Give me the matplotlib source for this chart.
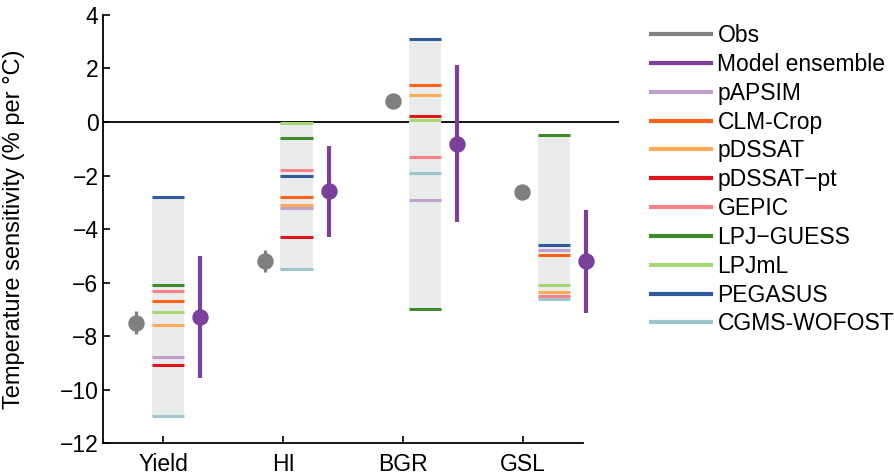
import numpy as np
import matplotlib
matplotlib.use("Agg")
import matplotlib.pyplot as plt
from matplotlib.lines import Line2D

plt.rcParams['font.family'] = ['Liberation Sans', 'DejaVu Sans']

# ---- data ----
categories = ["Yield", "HI", "BGR", "GSL"]
models = ["pAPSIM", "CLM-Crop", "pDSSAT", "pDSSAT\u2212pt", "GEPIC",
          "LPJ\u2212GUESS", "LPJmL", "PEGASUS", "CGMS-WOFOST"]
model_colors = ["#bf9fcc", "#ff6319", "#fdab58", "#e0141b", "#f98289",
                "#3f8a2c", "#a3d875", "#315a99", "#9ec4cc"]

# model sensitivities per category (Yield, HI, BGR, GSL)
pAPSIM      = [-8.80, -3.23, -2.90, -4.80]
CLM_Crop    = [-6.71, -2.80,  1.39, -4.96]
pDSSAT      = [-7.60, -3.12,  1.00, -6.37]
pDSSAT_pt   = [-9.10, -4.30,  0.22, np.nan]
GEPIC       = [-6.31, -1.81, -1.31, -6.49]
LPJ_GUESS   = [-6.10, -0.60, -7.00, -0.50]
LPJmL       = [-7.10, -0.04,  0.07, -6.09]
PEGASUS     = [-2.79, -2.00,  3.10, -4.61]
CGMS_WOFOST = [-11.00, -5.50, -1.91, -6.62]
model_values = [pAPSIM, CLM_Crop, pDSSAT, pDSSAT_pt, GEPIC,
                LPJ_GUESS, LPJmL, PEGASUS, CGMS_WOFOST]

obs_mean = [-7.50, -5.20, 0.80, -2.60]
obs_err  = [0.42, 0.40, 0.0, 0.0]

ens_mean = [-7.28, -2.58, -0.81, -5.21]
ens_low  = [-9.57, -4.31, -3.75, -7.13]
ens_high = [-5.01, -0.89, 2.13, -3.28]

yticks = [-12, -10, -8, -6, -4, -2, 0, 2, 4]

# ---- layout ----
fig = plt.figure(figsize=(8.95, 4.76), dpi=100)
ax = fig.add_axes([0.1154, 0.0693, 0.5762, 0.8992])

xpos = np.array([1.0375, 2.1125, 3.185, 4.26])
box_w = 0.27
off = 0.268

mv = np.array(model_values, dtype=float)
box_lo = np.nanmin(mv, axis=0)
box_hi = np.nanmax(mv, axis=0)

ax.axhline(0, color="black", lw=1.3, zorder=1)
ax.bar(xpos, box_hi - box_lo, bottom=box_lo, width=box_w,
       color="#eaecec", edgecolor="none", zorder=2)

for vals, col in zip(model_values, model_colors):
    for xi, v in zip(xpos, vals):
        if np.isnan(v):
            continue
        ax.hlines(v, xi - box_w / 2, xi + box_w / 2, color=col, lw=2.2, zorder=3)

obs_col = "#7f7f7f"
ens_col = "#7a409a"
ax.errorbar(xpos - off, obs_mean, yerr=obs_err, fmt="o", color=obs_col,
            ms=10.8, elinewidth=2.3, capsize=0, zorder=4)
ax.vlines(xpos + off, ens_low, ens_high, color=ens_col, lw=3.0, zorder=4)
ax.plot(xpos + off, ens_mean, "o", color=ens_col, ms=10.8, zorder=5)

ax.set_xlim(0.5, 4.8)
ax.set_ylim(-12, 4)
ax.set_xticks([1, 2, 3, 4])
ax.set_xticklabels(categories)
ax.set_yticks(yticks)
ax.tick_params(direction="in", length=5, width=1.2, labelsize=16.5)
ax.tick_params(axis="x", pad=7)
for s in ["top", "right"]:
    ax.spines[s].set_visible(False)
ax.spines["left"].set_linewidth(1.3)
ax.spines["bottom"].set_linewidth(1.3)
ax.spines["bottom"].set_bounds(0.5, 4.5)

ax.set_ylabel("Temperature sensitivity (% per \u00b0C)", fontsize=17)
ax.yaxis.set_label_coords(-0.152, 0.5)

handles = [Line2D([], [], color=obs_col, lw=3),
           Line2D([], [], color=ens_col, lw=3)]
handles += [Line2D([], [], color=c, lw=3) for c in model_colors]
labels = ["Obs", "Model ensemble"] + models
fig.legend(handles, labels, loc="upper left",
           bbox_to_anchor=(651 / 895, 1 - 24 / 476),
           frameon=False, fontsize=16.5, handlelength=2.6,
           handletextpad=0.3, labelspacing=0.255, borderpad=0, borderaxespad=0)

fig.savefig("out.png", dpi=100)
